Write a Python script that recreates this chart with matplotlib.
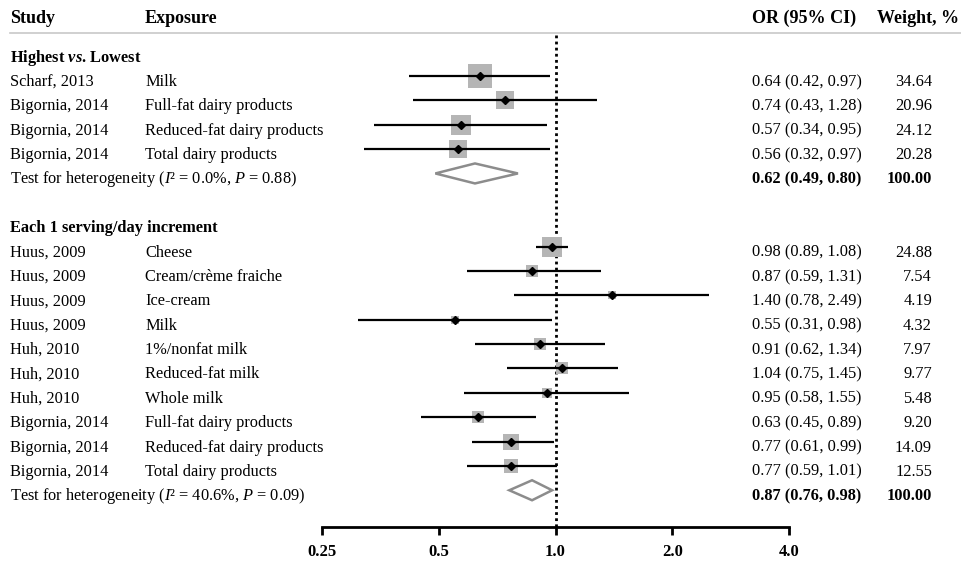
import numpy as np
import matplotlib.pyplot as plt
from matplotlib import transforms
from matplotlib.patches import Polygon
from matplotlib.lines import Line2D
from matplotlib.ticker import NullLocator

plt.rcParams['font.family'] = 'Liberation Serif'
plt.rcParams['mathtext.fontset'] = 'custom'
plt.rcParams['mathtext.rm'] = 'Liberation Serif'
plt.rcParams['mathtext.it'] = 'Liberation Serif:italic'
plt.rcParams['mathtext.bf'] = 'Liberation Serif:bold'
plt.rcParams['mathtext.bfit'] = 'Liberation Serif:italic:bold'

# --- dati: Highest vs. Lowest
hl_study = ["Scharf, 2013", "Bigornia, 2014", "Bigornia, 2014", "Bigornia, 2014"]
hl_exposure = ["Milk", "Full-fat dairy products", "Reduced-fat dairy products", "Total dairy products"]
hl_or = [0.64, 0.74, 0.57, 0.56]
hl_lo = [0.42, 0.43, 0.34, 0.32]
hl_hi = [0.97, 1.28, 0.95, 0.97]
hl_weight = [34.64, 20.96, 24.12, 20.28]
hl_pooled = (0.62, 0.49, 0.80)
hl_i2, hl_p = "0.0%", "0.88"

# --- dati: Each 1 serving/day increment
inc_study = ["Huus, 2009", "Huus, 2009", "Huus, 2009", "Huus, 2009", "Huh, 2010", "Huh, 2010",
             "Huh, 2010", "Bigornia, 2014", "Bigornia, 2014", "Bigornia, 2014"]
inc_exposure = ["Cheese", "Cream/crème fraiche", "Ice-cream", "Milk", "1%/nonfat milk",
                "Reduced-fat milk", "Whole milk", "Full-fat dairy products",
                "Reduced-fat dairy products", "Total dairy products"]
inc_or = [0.98, 0.87, 1.40, 0.55, 0.91, 1.04, 0.95, 0.63, 0.77, 0.77]
inc_lo = [0.89, 0.59, 0.78, 0.31, 0.62, 0.75, 0.58, 0.45, 0.61, 0.59]
inc_hi = [1.08, 1.31, 2.49, 0.98, 1.34, 1.45, 1.55, 0.89, 0.99, 1.01]
inc_weight = [24.88, 7.54, 4.19, 4.32, 7.97, 9.77, 5.48, 9.20, 14.09, 12.55]
inc_pooled = (0.87, 0.76, 0.98)
inc_i2, inc_p = "40.6%", "0.09"

tick_vals = [0.25, 0.5, 1.0, 2.0, 4.0]
tick_labels = ["0.25", "0.5", "1.0", "2.0", "4.0"]

# layout (pixel)
W, H = 962, 562
x_study, x_exp, x_or, x_wt = 10, 145, 752, 932
row0, step = 51.6, 24.37
axis_y = 527
fs = 11.8

fig = plt.figure(figsize=(W / 100, H / 100), dpi=100)
ax = fig.add_axes([322 / W, 0, (789 - 322) / W, 1])
ax.set_xscale('log', base=2)
ax.set_xlim(0.25, 4.0)
ax.set_ylim(H, 0)
ax.patch.set_visible(False)

for s in ['top', 'left', 'right']:
    ax.spines[s].set_visible(False)
ax.spines['bottom'].set_position(('data', axis_y))
ax.spines['bottom'].set_bounds(0.25, 4.0)
ax.spines['bottom'].set_linewidth(2)
ax.set_yticks([])
ax.set_xticks(tick_vals)
ax.set_xticklabels(tick_labels)
ax.xaxis.set_minor_locator(NullLocator())
ax.tick_params(axis='x', direction='out', length=6, width=2, pad=6, labelsize=12)
for lbl in ax.get_xticklabels():
    lbl.set_fontweight('bold')

tr = transforms.blended_transform_factory(fig.transFigure, ax.transData)


def txt(x, y, s, ha='left', **kw):
    ax.text(x / W, y + 10, s, transform=tr, va='baseline', ha=ha, fontsize=fs, clip_on=False, **kw)


# intestazione
for x, s in [(x_study, "Study"), (x_exp, "Exposure"), (x_or, "OR (95% CI)"), (877, "Weight, %")]:
    ax.text(x / W, 23, s, transform=tr, va='baseline', ha='left', fontsize=13, fontweight='bold')
fig.add_artist(Line2D([10 / W, 1], [1 - 33 / H, 1 - 33 / H], color='#c8c8c8', lw=1.2))

# linea di riferimento
ax.vlines(1.0, 35, axis_y, colors='k', linestyles=(0, (1, 1.2)), lw=2, zorder=1)


def draw_section(start, title, study, exposure, orr, lo, hi, wt, pooled, i2, p):
    txt(x_study, row0 + step * start, title, fontweight='bold')
    ys = [row0 + step * (start + 1 + k) for k in range(len(orr))]
    for k in range(len(orr)):
        y = ys[k]
        ax.scatter(orr[k], y, s=(2.9 * np.sqrt(wt[k])) ** 2, marker='s', color='#b5b5b5',
                   linewidths=0, zorder=2, clip_on=False)
        ax.hlines(y, lo[k], hi[k], colors='k', lw=1.6, zorder=3)
        ax.plot(orr[k], y, marker='D', ms=4, color='k', zorder=4, clip_on=False)
        txt(x_study, y, study[k])
        txt(x_exp, y, exposure[k])
        txt(x_or, y, "%.2f (%.2f, %.2f)" % (orr[k], lo[k], hi[k]))
        txt(x_wt, y, "%.2f" % wt[k], ha='right')
    yh = row0 + step * (start + 1 + len(orr))
    est, plo, phi = pooled
    ax.add_patch(Polygon([(plo, yh), (est, yh - 10), (phi, yh), (est, yh + 10)], closed=True,
                         fill=False, edgecolor='#8c8c8c', lw=1.8, zorder=3))
    txt(x_study, yh, r"Test for heterogeneity ($\mathit{I}$² = %s, $\mathit{P}$ = %s)" % (i2, p))
    txt(x_or, yh, "%.2f (%.2f, %.2f)" % pooled, fontweight='bold')
    txt(x_wt, yh, "100.00", ha='right', fontweight='bold')


draw_section(0, r"Highest $\mathbfit{vs}$. Lowest", hl_study, hl_exposure, hl_or, hl_lo, hl_hi,
             hl_weight, hl_pooled, hl_i2, hl_p)
draw_section(7, "Each 1 serving/day increment", inc_study, inc_exposure, inc_or, inc_lo, inc_hi,
             inc_weight, inc_pooled, inc_i2, inc_p)

fig.savefig('out.png', dpi=100)
